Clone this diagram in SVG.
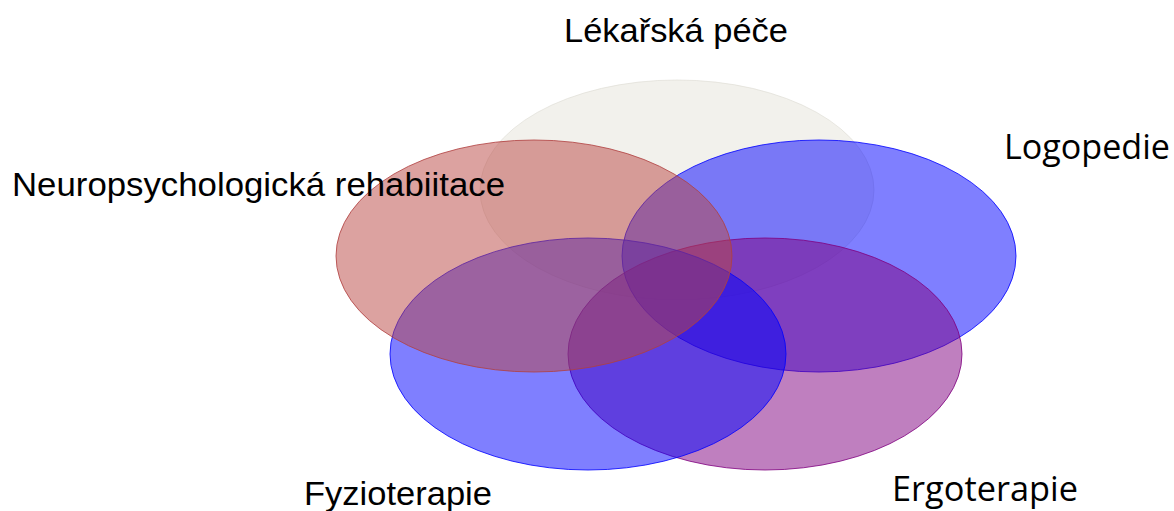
<svg xmlns="http://www.w3.org/2000/svg" width="1174" height="511" viewBox="0 0 1174 511">
<style>
.lbl{font-family:"Liberation Sans",Arial,sans-serif;font-size:34px;fill:#000}
.lbl2{font-family:"Open Sans","Noto Sans",sans-serif;font-size:34px;fill:#000}
.e{stroke-width:1}
</style>
<rect width="1174" height="511" fill="#fff"/>
<g id="lekarska">
<ellipse class="e" cx="677" cy="190" rx="197" ry="110" fill="rgb(230,228,218)" fill-opacity="0.5" stroke="rgb(220,218,210)" stroke-opacity="0.6"/>
<text class="lbl" x="564" y="42" textLength="224" lengthAdjust="spacingAndGlyphs">Lékařská péče</text>
</g>
<g id="logopedie">
<ellipse class="e" cx="819" cy="256" rx="197" ry="116" fill="rgb(0,0,255)" fill-opacity="0.5" stroke="#0000ff" stroke-opacity="0.8"/>
<text class="lbl2" x="1004" y="159" textLength="166" lengthAdjust="spacingAndGlyphs">Logopedie</text>
</g>
<g id="ergoterapie">
<ellipse class="e" cx="765" cy="354" rx="197" ry="116" fill="rgb(128,0,128)" fill-opacity="0.5" stroke="#800080" stroke-opacity="0.8"/>
<text class="lbl2" x="892" y="501" textLength="186" lengthAdjust="spacingAndGlyphs">Ergoterapie</text>
</g>
<g id="fyzioterapie">
<ellipse class="e" cx="588" cy="354" rx="198" ry="116" fill="rgb(0,0,255)" fill-opacity="0.5" stroke="#0000ff" stroke-opacity="0.8"/>
<text class="lbl" x="304" y="505" textLength="188" lengthAdjust="spacingAndGlyphs">Fyzioterapie</text>
</g>
<g id="neuropsychologicka">
<ellipse class="e" cx="534" cy="256" rx="198" ry="116" fill="rgb(185,70,65)" fill-opacity="0.5" stroke="#b04040" stroke-opacity="0.8"/>
<text class="lbl" x="12" y="196" textLength="493" lengthAdjust="spacingAndGlyphs">Neuropsychologická rehabiitace</text>
</g>
<g id="connectors"/>
</svg>
